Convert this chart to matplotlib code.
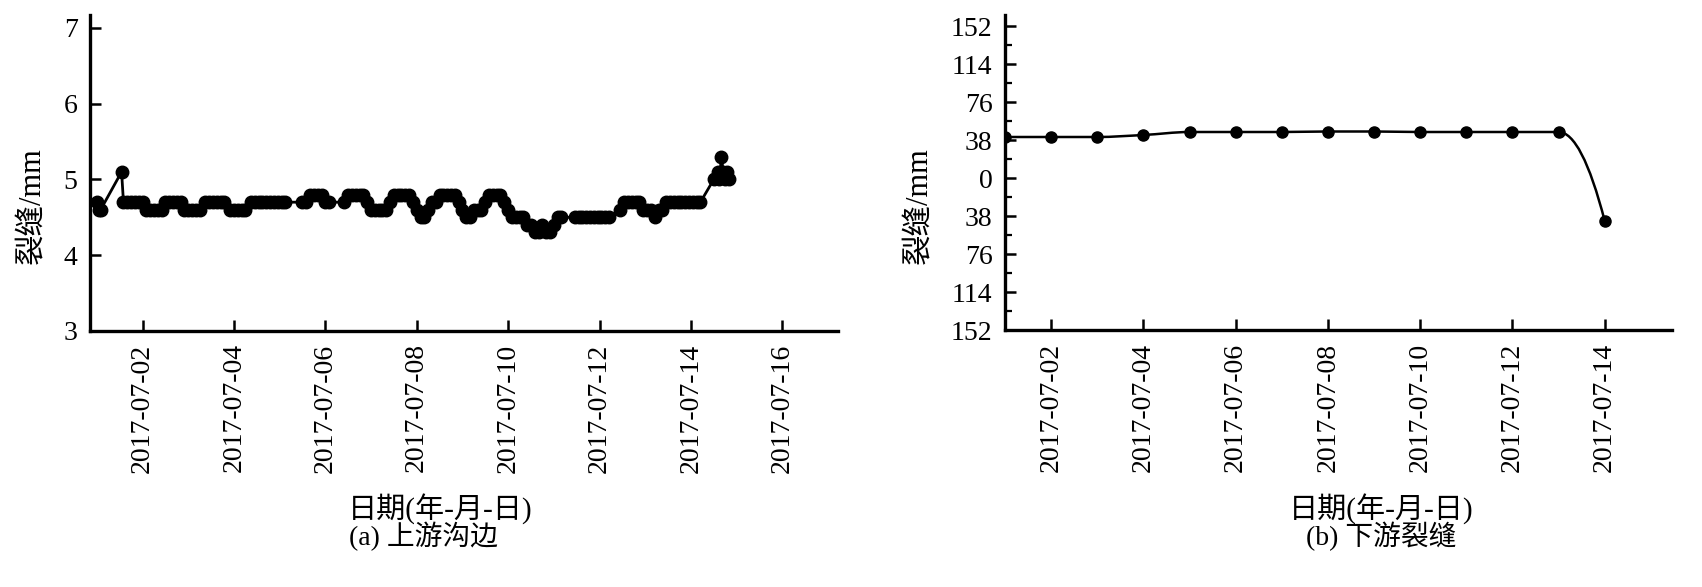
import matplotlib
matplotlib.use('Agg')
import matplotlib.pyplot as plt
import matplotlib.dates as mdates
import matplotlib.ticker as mticker
from matplotlib.path import Path
from matplotlib.patches import PathPatch
import numpy as np
import pandas as pd

plt.rcParams['font.family'] = ['Liberation Serif', 'Noto Sans CJK SC', 'DejaVu Sans']

# (a) 上游沟边: hours after 2017-07-01 00:00 and crack width (mm)
up_hours = [0, 1, 2, 13, 14, 16, 18, 20, 22, 24,
            26, 28, 30, 32, 34, 36, 38, 40, 42, 44,
            46, 48, 50, 52, 54, 57, 59, 61, 63, 65, 67,
            70, 72, 74, 76, 78, 81, 83, 85, 87, 89, 91, 93, 95, 97, 99,
            108, 110, 112, 114, 116, 118, 120, 122,
            130, 132, 134, 136, 138, 140, 142, 144, 146, 148, 150, 152,
            154, 156, 158, 160, 162, 164, 166, 168, 170, 172, 174, 176, 178,
            180, 182, 184, 186, 188, 190, 192, 194, 196, 198, 200, 202,
            204, 206, 208, 210, 212, 214, 216, 218, 220, 222, 224, 226,
            228, 230, 232, 234, 236, 238, 240, 242, 244,
            251, 253, 255, 257, 259, 261, 263, 265, 267, 269,
            275, 277, 279, 281, 283, 285, 287, 289, 291, 293, 295, 297,
            299, 301, 303, 305, 307, 309, 311, 313, 315, 317,
            324, 326, 327, 328, 329, 330, 331, 332]
up_vals = [4.7, 4.6, 4.6, 5.1, 4.7, 4.7, 4.7, 4.7, 4.7, 4.7,
           4.6, 4.6, 4.6, 4.6, 4.6, 4.7, 4.7, 4.7, 4.7, 4.7,
           4.6, 4.6, 4.6, 4.6, 4.6, 4.7, 4.7, 4.7, 4.7, 4.7, 4.7,
           4.6, 4.6, 4.6, 4.6, 4.6, 4.7, 4.7, 4.7, 4.7, 4.7, 4.7, 4.7, 4.7, 4.7, 4.7,
           4.7, 4.7, 4.8, 4.8, 4.8, 4.8, 4.7, 4.7,
           4.7, 4.8, 4.8, 4.8, 4.8, 4.8, 4.7, 4.6, 4.6, 4.6, 4.6, 4.6,
           4.7, 4.8, 4.8, 4.8, 4.8, 4.8, 4.7, 4.6, 4.5, 4.5, 4.6, 4.7, 4.7,
           4.8, 4.8, 4.8, 4.8, 4.8, 4.7, 4.6, 4.5, 4.5, 4.6, 4.6, 4.6,
           4.7, 4.8, 4.8, 4.8, 4.8, 4.7, 4.6, 4.5, 4.5, 4.5, 4.5, 4.4,
           4.4, 4.3, 4.3, 4.4, 4.3, 4.3, 4.4, 4.5, 4.5,
           4.5, 4.5, 4.5, 4.5, 4.5, 4.5, 4.5, 4.5, 4.5, 4.5,
           4.6, 4.7, 4.7, 4.7, 4.7, 4.7, 4.6, 4.6, 4.6, 4.5, 4.6, 4.6,
           4.7, 4.7, 4.7, 4.7, 4.7, 4.7, 4.7, 4.7, 4.7, 4.7,
           5.0, 5.1, 5.0, 5.3, 5.1, 5.0, 5.1, 5.0]

# (b) 下游裂缝: daily readings
down_dates = ['2017-07-01', '2017-07-02', '2017-07-03', '2017-07-04', '2017-07-05',
              '2017-07-06', '2017-07-07', '2017-07-08', '2017-07-09', '2017-07-10',
              '2017-07-11', '2017-07-12', '2017-07-13', '2017-07-14']
down_vals = [41, 41, 41, 43, 46, 46, 46, 46.5, 46.5, 46, 46, 46, 46, -43]

down_yticks = [-152, -114, -76, -38, 0, 38, 76, 114, 152]


def smooth_path(x, y):
    # monotone cubic bezier through the points
    x = np.asarray(x, float)
    y = np.asarray(y, float)
    d = np.diff(y) / np.diff(x)
    m = np.zeros_like(y)
    for i in range(1, len(y) - 1):
        if d[i - 1] * d[i] > 0:
            m[i] = 2 / (1 / d[i - 1] + 1 / d[i])
    m[0] = d[0]
    m[-1] = 2 * d[-1] - m[-2]
    verts = [(x[0], y[0])]
    codes = [Path.MOVETO]
    for i in range(len(x) - 1):
        h = x[i + 1] - x[i]
        verts += [(x[i] + h / 3, y[i] + m[i] * h / 3),
                  (x[i + 1] - h / 3, y[i + 1] - m[i + 1] * h / 3),
                  (x[i + 1], y[i + 1])]
        codes += [Path.CURVE4] * 3
    return Path(verts, codes)


def style_axes(ax):
    for s in ['top', 'right']:
        ax.spines[s].set_visible(False)
    for s in ['left', 'bottom']:
        ax.spines[s].set_linewidth(2.4)
    ax.tick_params(which='major', direction='in', length=8, width=1.8, labelsize=20, pad=9)
    ax.tick_params(which='minor', direction='in', length=5, width=1.6)
    ax.tick_params(axis='x', rotation=90)
    ax.xaxis.set_major_formatter(mdates.DateFormatter('%Y-%m-%d'))


fig = plt.figure(figsize=(17.02, 5.87), dpi=100)

# (a)
ax1 = fig.add_axes([90 / 1702, 1 - 331 / 587, 748 / 1702, 316 / 587])
up_times = pd.Timestamp('2017-07-01') + pd.to_timedelta(up_hours, unit='h')
ax1.plot(up_times, up_vals, color='black', linewidth=2.0, marker='o', markersize=9)
ax1.set_xlim(pd.Timestamp('2017-06-30 20:25'), pd.Timestamp('2017-07-17 05:15'))
ax1.set_ylim(3, 7.17)
ax1.set_yticks([3, 4, 5, 6, 7])
ax1.set_xticks(pd.date_range('2017-07-02', '2017-07-16', freq='2D'))
style_axes(ax1)

# (b)
ax2 = fig.add_axes([1005 / 1702, 1 - 330 / 587, 667 / 1702, 315 / 587])
dn = mdates.date2num(pd.to_datetime(down_dates))
ax2.add_patch(PathPatch(smooth_path(dn, down_vals), facecolor='none', edgecolor='black', linewidth=1.8))
ax2.plot(pd.to_datetime(down_dates), down_vals, linestyle='none', color='black', marker='o', markersize=8)
ax2.set_xlim(pd.Timestamp('2017-07-01'), pd.Timestamp('2017-07-15 11:00'))
ax2.set_ylim(-152, 163)
ax2.set_yticks(down_yticks)
ax2.set_yticklabels([str(abs(v)) for v in down_yticks])
ax2.yaxis.set_minor_locator(mticker.MultipleLocator(19))
ax2.set_xticks(pd.date_range('2017-07-02', '2017-07-14', freq='2D'))
style_axes(ax2)

# axis labels and captions
fig.text(33 / 1702, 1 - 206 / 587, '裂缝/mm', rotation=90, ha='center', va='center', fontsize=22)
fig.text(920 / 1702, 1 - 206 / 587, '裂缝/mm', rotation=90, ha='center', va='center', fontsize=22)
fig.text(440 / 1702, 1 - 509 / 587, '日期(年-月-日)', ha='center', va='center', fontsize=21)
fig.text(1381 / 1702, 1 - 509 / 587, '日期(年-月-日)', ha='center', va='center', fontsize=21)
fig.text(423 / 1702, 1 - 536 / 587, '(a) 上游沟边', ha='center', va='center', fontsize=20)
fig.text(1381 / 1702, 1 - 536 / 587, '(b) 下游裂缝', ha='center', va='center', fontsize=20)

fig.savefig('out.png', dpi=100)
